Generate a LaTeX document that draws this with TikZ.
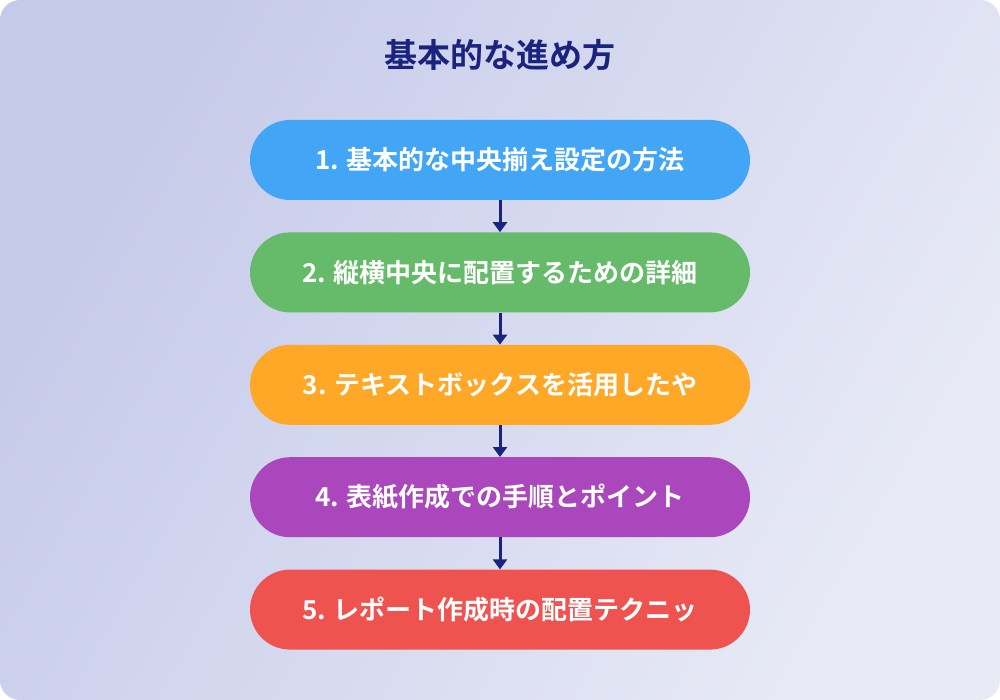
\documentclass[tikz,border=0pt]{standalone}
\usepackage{fontspec}
\setmainfont{Noto Sans CJK JP}[BoldFont={* Bold}]
\usetikzlibrary{arrows.meta,positioning}
\definecolor{navy}{HTML}{1A237E}
\definecolor{bgA}{HTML}{E8EAF6}
\definecolor{bgB}{HTML}{C5CAE9}
\definecolor{stepA}{HTML}{42A5F5}
\definecolor{stepB}{HTML}{66BB6A}
\definecolor{stepC}{HTML}{FFA726}
\definecolor{stepD}{HTML}{AB47BC}
\definecolor{stepE}{HTML}{EF5350}
\tikzset{
    stage/.style={rounded corners=40pt, minimum width=500pt, minimum height=80pt, text=white, font=\fontsize{26pt}{30pt}\selectfont\bfseries, inner sep=0pt}, % 各ステップの箱
    link/.style={navy, line width=3pt, -{Triangle[length=10pt, width=14pt]}} % 箱をつなぐ矢印
}
\begin{document}
\begin{tikzpicture}[x=1pt, y=-1pt]
    \useasboundingbox (0,0) rectangle (1000,700);
    \shade[left color=bgA, right color=bgB, shading angle=-120, rounded corners=20pt] (0,0) rectangle (1000,700);

    \node[navy, font=\fontsize{33pt}{38pt}\selectfont\bfseries] (title) at (500,55) {基本的な進め方};

    \node[stage, fill=stepA] (s1) at (500,160) {1. 基本的な中央揃え設定の方法};
    \node[stage, fill=stepB, below=32pt of s1] (s2) {2. 縦横中央に配置するための詳細};
    \node[stage, fill=stepC, below=32pt of s2] (s3) {3. テキストボックスを活用したや};
    \node[stage, fill=stepD, below=32pt of s3] (s4) {4. 表紙作成での手順とポイント};
    \node[stage, fill=stepE, below=32pt of s4] (s5) {5. レポート作成時の配置テクニッ};

    \foreach \a/\b in {s1/s2, s2/s3, s3/s4, s4/s5} {\draw[link] (\a.south) -- (\b.north);}
\end{tikzpicture}
\end{document}
